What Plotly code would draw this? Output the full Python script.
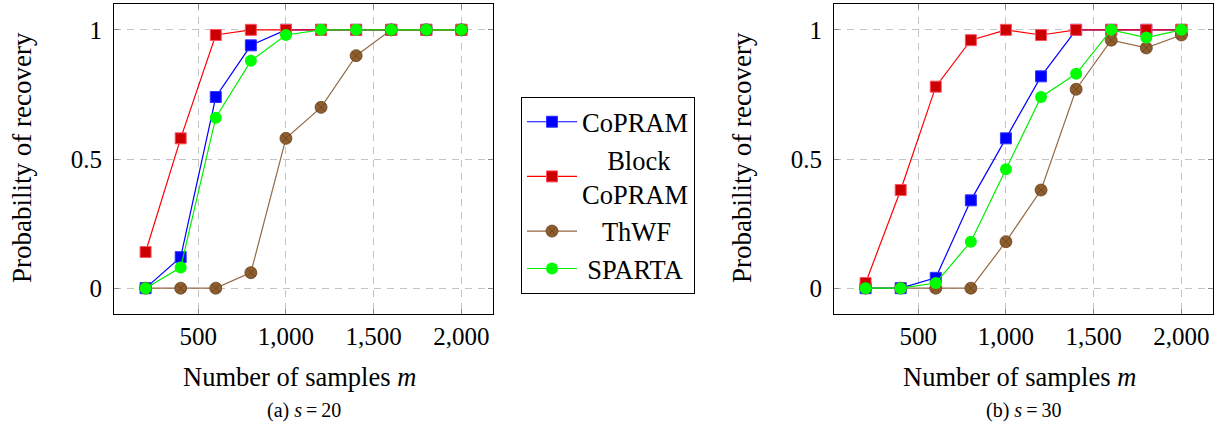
import plotly.graph_objects as go

# ---- data ----
samples = [200, 400, 600, 800, 1000, 1200, 1400, 1600, 1800, 2000]

# (a) s = 20
copram_a = [0.00, 0.12, 0.74, 0.94, 1.00, 1.00, 1.00, 1.00, 1.00, 1.00]
block_a = [0.14, 0.58, 0.98, 1.00, 1.00, 1.00, 1.00, 1.00, 1.00, 1.00]
thwf_a = [0.00, 0.00, 0.00, 0.06, 0.58, 0.70, 0.90, 1.00, 1.00, 1.00]
sparta_a = [0.00, 0.08, 0.66, 0.88, 0.98, 1.00, 1.00, 1.00, 1.00, 1.00]

# (b) s = 30
copram_b = [0.00, 0.00, 0.04, 0.34, 0.58, 0.82, 1.00, 1.00, 1.00, 1.00]
block_b = [0.02, 0.38, 0.78, 0.96, 1.00, 0.98, 1.00, 1.00, 1.00, 1.00]
thwf_b = [0.00, 0.00, 0.00, 0.00, 0.18, 0.38, 0.77, 0.96, 0.93, 0.98]
sparta_b = [0.00, 0.00, 0.02, 0.18, 0.46, 0.74, 0.83, 1.00, 0.97, 1.00]

names = ["CoPRAM", "\u00a0\u00a0\u00a0\u2009Block<br>CoPRAM", "\u00a0\u00a0\u00a0ThWF", "\u2009SPARTA"]
x_tick_vals = [500, 1000, 1500, 2000]
x_tick_text = ["500", "1,000", "1,500", "2,000"]
y_tick_vals = [0, 0.5, 1]
y_tick_text = ["0", "0.5", "1"]
captions = ["(a) <i>s</i>\u2009=\u200920", "(b) <i>s</i>\u2009=\u200930"]
x_title = "Number of samples <i>m</i>"
y_title = "Probability of recovery"

FONT = "Liberation Serif, Times New Roman, serif"
W, H = 1225, 442

styles = [
    dict(line=dict(color="#0000ff", width=1.2),
         marker=dict(symbol="square", size=11, color="#0000ff", line=dict(color="#3333ff", width=1))),
    dict(line=dict(color="#ff0000", width=1.2),
         marker=dict(symbol="square", size=11, color="#cc0000", line=dict(color="#ff5060", width=1))),
    dict(line=dict(color="#946a45", width=1.2),
         marker=dict(symbol="circle-x", size=12, color="#8f5e2e", line=dict(color="#66411c", width=0.8))),
    dict(line=dict(color="#00ee00", width=1.2),
         marker=dict(symbol="circle", size=12, color="#00ff00", line=dict(color="#00ff00", width=0))),
]

fig = go.Figure()
panels = [
    ("x", "y", [copram_a, block_a, thwf_a, sparta_a], True),
    ("x2", "y2", [copram_b, block_b, thwf_b, sparta_b], False),
]
for xa, ya, series, show in panels:
    for i, (name, vals) in enumerate(zip(names, series)):
        fig.add_trace(go.Scatter(
            x=samples, y=vals, mode="lines+markers", name=name,
            xaxis=xa, yaxis=ya, showlegend=show, legendgroup=f"g{i}",
            line=styles[i]["line"], marker=styles[i]["marker"],
        ))

# plot-area pixel boxes
left_box = (114, 493)
right_box = (834, 1213)
top_px, bot_px = 4, 314
ydom = [1 - bot_px / H, 1 - top_px / H]

axis_common = dict(
    showline=True, linecolor="black", linewidth=1, mirror="ticks",
    ticks="inside", ticklen=5, tickcolor="#8c8c8c", tickwidth=1,
    showgrid=True, gridcolor="#c4c4c4", gridwidth=1, griddash="7px,6px",
    zeroline=False, tickfont=dict(family=FONT, size=25, color="black"),
)

fig.update_layout(
    width=W, height=H, autosize=False,
    margin=dict(l=0, r=0, t=0, b=0),
    paper_bgcolor="white", plot_bgcolor="white",
    font=dict(family=FONT, size=25, color="black"),
    xaxis=dict(domain=[left_box[0] / W, left_box[1] / W], range=[20, 2180],
               tickvals=x_tick_vals, ticktext=x_tick_text, anchor="y",
               ticklabelstandoff=0, **axis_common),
    yaxis=dict(domain=ydom, range=[-0.1, 1.1], tickvals=y_tick_vals, ticktext=y_tick_text,
               anchor="x", ticklabelstandoff=6, **axis_common),
    xaxis2=dict(domain=[right_box[0] / W, right_box[1] / W], range=[20, 2180],
                tickvals=x_tick_vals, ticktext=x_tick_text, anchor="y2",
                ticklabelstandoff=0, **axis_common),
    yaxis2=dict(domain=ydom, range=[-0.1, 1.1], tickvals=y_tick_vals, ticktext=y_tick_text,
                anchor="x2", ticklabelstandoff=6, **axis_common),
    legend=dict(
        x=521 / W, y=1 - 97 / H, xanchor="left", yanchor="top",
        bordercolor="black", borderwidth=1, bgcolor="white",
        font=dict(family=FONT, size=26.5, color="black"),
        itemwidth=50, tracegroupgap=0, valign="middle",
    ),
)

annotations = []
for (x0, x1), cap, ytx in [(left_box, captions[0], 22), (right_box, captions[1], 742)]:
    cx = (x0 + x1) / 2 / W
    annotations.append(dict(x=cx - 4 / W, y=1 - 377 / H, xref="paper", yref="paper",
                            text=x_title, showarrow=False, xanchor="center", yanchor="middle",
                            font=dict(family=FONT, size=26.5, color="black")))
    annotations.append(dict(x=ytx / W, y=1 - 158 / H, xref="paper", yref="paper",
                            text=y_title, showarrow=False, textangle=-90,
                            xanchor="center", yanchor="middle",
                            font=dict(family=FONT, size=27, color="black")))
    annotations.append(dict(x=cx, y=1 - 410 / H, xref="paper", yref="paper",
                            text=cap, showarrow=False, xanchor="center", yanchor="middle",
                            font=dict(family=FONT, size=20, color="black")))
fig.update_layout(annotations=annotations)

fig.write_html("out.html", config={"displayModeBar": False},
               post_script="document.body.style.margin='0';document.body.style.padding='0';")
